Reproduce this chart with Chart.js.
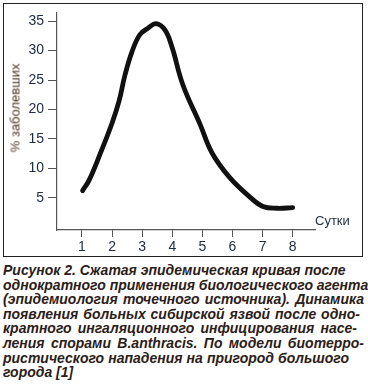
<!DOCTYPE html>
<html>
<head>
<meta charset="utf-8">
<script src="https://cdn.jsdelivr.net/npm/chart.js@4"></script>
<style>
  body { margin: 0; background: #fff; width: 368px; height: 386px; position: relative; overflow: hidden; }
  #frame { position: absolute; left: 3px; top: 3px; width: 360px; height: 254px; border: 1.5px solid #222; box-sizing: border-box; }
  #chart { position: absolute; left: 0; top: 0; }
  #ylabel { position: absolute; left: 15px; top: 108px; transform: translate(-50%, -50%) rotate(-90deg); font: 13px "Liberation Sans", Arial, sans-serif; color: #4a3822; white-space: nowrap; }
  #xlabel { position: absolute; left: 315px; top: 213px; font: 13px "Liberation Sans", Arial, sans-serif; color: #1e2a40; }
  #caption { position: absolute; left: 3px; top: 262px; width: 361px; font: italic bold 14px "Liberation Sans", Arial, sans-serif; color: #2b2018; line-height: 14.6px; }
  #caption div { white-space: nowrap; text-align: justify; text-align-last: justify; transform: scaleY(1.06); transform-origin: left top; }
  #caption div.last { text-align-last: left; }
</style>
</head>
<body>
<div id="frame"></div>
<canvas id="chart" width="368" height="260"></canvas>
<div id="ylabel">% заболевших</div>
<div id="xlabel">Сутки</div>
<div id="caption">
  <div style="width:342px">Рисунок 2. Сжатая эпидемическая кривая после</div>
  <div>однократного применения биологического агента</div>
  <div>(эпидемиология точечного источника). Динамика</div>
  <div style="width:357px">появления больных сибирской язвой после одно-</div>
  <div style="width:354px">кратного ингаляционного инфицирования насе-</div>
  <div>ления спорами B.anthracis. По модели биотерро-</div>
  <div style="width:346px">ристического нападения на пригород большого</div>
  <div class="last">города [1]</div>
</div>
<script>
const days = [1.02, 1.23, 1.6, 2.0, 2.23, 2.43, 2.66, 2.92, 3.19, 3.46, 3.76, 3.99, 4.35, 4.92, 5.32, 5.91, 6.58, 7.01, 7.48, 8.0];
const cases = [6.2, 7.9, 12.4, 17.7, 21.4, 25.9, 29.8, 32.7, 33.8, 34.6, 33.5, 30.6, 24.2, 17.5, 12.6, 8.4, 5.1, 3.5, 3.2, 3.3];
const xTicks = [1, 2, 3, 4, 5, 6, 7, 8];
const yTicks = [5, 10, 15, 20, 25, 30, 35];

const points = days.map((d, i) => ({ x: d, y: cases[i] }));
const tickFont = { family: "'Liberation Sans', Arial, sans-serif", size: 14 };

new Chart(document.getElementById("chart").getContext("2d"), {
    type: "line",
    data: {
        datasets: [{
            data: points,
            borderColor: "#111",
            borderWidth: 4.8,
            borderCapStyle: "round",
            borderJoinStyle: "round",
            pointRadius: 0,
            tension: 0.4,
            fill: false
        }]
    },
    options: {
        responsive: false,
        animation: false,
        layout: { padding: { left: 0, top: 10, right: 53, bottom: 0 } },
        plugins: { legend: { display: false }, tooltip: { enabled: false } },
        scales: {
            x: {
                type: "linear",
                min: 0.17,
                max: 8.74,
                afterBuildTicks: axis => { axis.ticks = xTicks.map(v => ({ value: v })); },
                afterFit: scale => { scale.height = 30; },
                ticks: { color: "#1e2a40", font: tickFont, padding: 2, autoSkip: false, maxRotation: 0 },
                grid: { drawOnChartArea: false, drawTicks: true, tickLength: 7, color: "#555" },
                border: { display: true, color: "#555", width: 1.2 }
            },
            y: {
                min: -0.5,
                max: 36.5,
                afterBuildTicks: axis => { axis.ticks = yTicks.map(v => ({ value: v })); },
                afterFit: scale => { scale.width = 57; },
                ticks: { color: "#1e2a40", font: tickFont, padding: 4 },
                grid: { drawOnChartArea: false, drawTicks: true, tickLength: 9, color: "#555" },
                border: { display: true, color: "#555", width: 1.2 }
            }
        }
    }
});
</script>
</body>
</html>
